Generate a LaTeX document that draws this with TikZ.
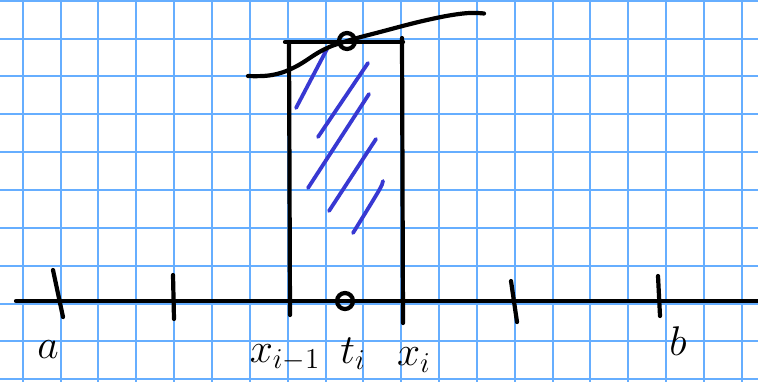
\documentclass[tikz,border=0pt]{standalone}
\usepackage{xcolor}
\usepackage{tikz}
\definecolor{paperblue}{HTML}{66AEFF}
\definecolor{hatchblue}{HTML}{3838D2}

\begin{document}
\begin{tikzpicture}[
        x=0.5pt, y=-0.5pt,
        paper/.style={draw=paperblue, line width=1pt},
        ink/.style={draw=black, line width=2.1pt, line cap=round},
        hatch/.style={draw=hatchblue, line width=1.9pt, line cap=round},
        dot/.style={circle, draw=black, line width=2.1pt, minimum size=8pt, inner sep=0pt},
        lab/.style={font=\fontsize{21}{24}\selectfont, inner sep=0pt}
      ]
        \useasboundingbox (0,0) rectangle (758,382);
        \fill[white] (0,0) rectangle (758,382);
        % squared paper
        \foreach \k in {0,...,19}
          \draw[paper] ({22.7+37.85*\k},0) -- ({22.7+37.85*\k},382);
        \foreach \k in {0,...,10}
          \draw[paper] (0,{0.7+37.85*\k}) -- (758,{0.7+37.85*\k});
        % hatching
        \draw[hatch] (327,49) -- (296,108);
        \draw[hatch] (368,63) -- (318,137);
        \draw[hatch] (369,94) -- (308,188);
        \draw[hatch] (376,139) -- (329,211);
        \draw[hatch] (383,181) .. controls (382,186) .. (353,233);
        % axis and ticks
        \coordinate (start) at (16,301);
        \coordinate (end)   at (758,301);
        \draw[ink] (start) -- (end);
        \draw[ink] (53,270) -- (63,317);
        \draw[ink] (173,275) -- (174,319);
        \draw[ink] (511,281) -- (517,322);
        \draw[ink] (658,276) -- (660,316);
        % rectangle
        \coordinate (tl) at (285,42);
        \coordinate (tr) at (403,42);
        \draw[ink] (289,42) -- (290,315);
        \draw[ink] (402,38) -- (403,323);
        \draw[ink] (tl) -- (tr);
        % curve
        \draw[ink] plot[smooth, tension=0.7] coordinates {(248,76) (272,75)
          (295,67) (323,50) (347,41) (380,32) (427,20) (463,13.5) (484,13.5)};
        % points
        \node[dot] (ti)  at (345,301) {};
        \node[dot] (fti) at (347,41) {};
        % labels
        \node[lab] (a)   at (48,350)  {$a$};
        \node[lab] (xim) at (285,358) {$x_{i-1}$};
        \node[lab] (t)   at (353,354) {$t_i$};
        \node[lab] (xi)  at (414,360) {$x_i$};
        \node[lab] (b)   at (678,341) {$b$};
      \end{tikzpicture}
\end{document}
